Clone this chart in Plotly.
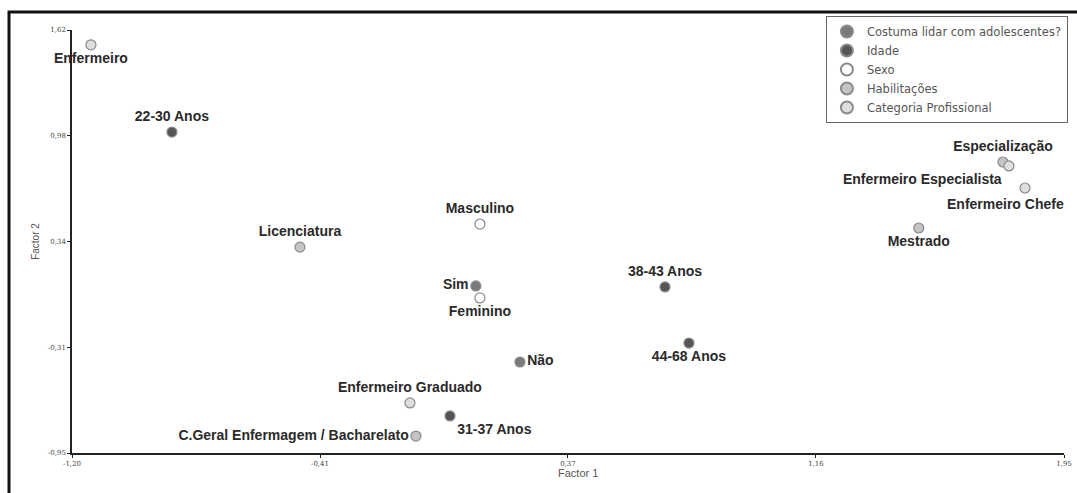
import plotly.graph_objects as go

# ---- data ----
groups = ["Costuma lidar com adolescentes?", "Idade", "Sexo", "Habilitações", "Categoria Profissional"]

lidar_labels = ["Sim", "Não"]
lidar_x = [0.081, 0.221]
lidar_y = [0.065, -0.397]

idade_labels = ["22-30 Anos", "31-37 Anos", "38-43 Anos", "44-68 Anos"]
idade_x = [-0.883, -0.001, 0.681, 0.757]
idade_y = [1.000, -0.725, 0.059, -0.282]

sexo_labels = ["Masculino", "Feminino"]
sexo_x = [0.094, 0.094]
sexo_y = [0.441, -0.008]

hab_labels = ["Licenciatura", "C.Geral Enfermagem / Bacharelato", "Especialização", "Mestrado"]
hab_x = [-0.477, -0.109, 1.753, 1.486]
hab_y = [0.301, -0.847, 0.818, 0.417]

cat_labels = ["Enfermeiro", "Enfermeiro Graduado", "Enfermeiro Especialista", "Enfermeiro Chefe"]
cat_x = [-1.140, -0.128, 1.772, 1.823]
cat_y = [1.530, -0.646, 0.794, 0.660]

x_ticks = [-1.20, -0.4133, 0.3733, 1.16, 1.9467]
x_ticktext = ["-1,20", "-0,41", "0,37", "1,16", "1,95"]
y_ticks = [-0.95, -0.3075, 0.335, 0.9775, 1.62]
y_ticktext = ["-0,95", "-0,31", "0,34", "0,98", "1,62"]

# ---- styling ----
colors = ["#7a7a7a", "#555555", "#ffffff", "#c4c4c4", "#dedede"]
positions = [
    ["middle left", "middle right"],
    ["top center", "bottom right", "top center", "bottom center"],
    ["top center", "bottom center"],
    ["top center", "middle left", "top center", "bottom center"],
    ["bottom center", "top center", "bottom left", "bottom center"],
]
label_font = dict(family="Liberation Sans, Arial", size=14, color="#2a2a2a", weight="bold")
# this label is drawn as an annotation so it can sit left of its point, as in the original
offset_label = "Enfermeiro Chefe"

series = [
    (lidar_labels, lidar_x, lidar_y),
    (idade_labels, idade_x, idade_y),
    (sexo_labels, sexo_x, sexo_y),
    (hab_labels, hab_x, hab_y),
    (cat_labels, cat_x, cat_y),
]

fig = go.Figure()
annots = []
for name, (labs, xs, ys), col, pos in zip(groups, series, colors, positions):
    shown = []
    for t, xv, yv in zip(labs, xs, ys):
        if t == offset_label:
            shown.append("")
            annots.append(dict(text=t, x=xv, y=yv, xref="x", yref="y", showarrow=False,
                               xanchor="center", yanchor="top", xshift=-20, yshift=-6,
                               font=label_font))
        else:
            shown.append(t)
    fig.add_trace(go.Scatter(
        x=xs, y=ys, mode="markers+text", name=name,
        text=shown, textposition=pos,
        textfont=label_font,
        marker=dict(size=10, color=col, line=dict(color="#8a8a8a", width=1.2)),
        cliponaxis=False,
    ))

annots.append(dict(
    text="Factor 1", xref="paper", yref="paper", x=0.51, y=-0.047,
    xanchor="center", yanchor="middle", showarrow=False,
    font=dict(family="Liberation Sans, Arial", size=11, color="#555"),
))

fig.update_layout(
    width=1077, height=493,
    margin=dict(l=72, r=13, t=30, b=40, autoexpand=False),
    paper_bgcolor="white", plot_bgcolor="white",
    showlegend=True,
    legend=dict(
        x=0.76, y=1.033, xanchor="left", yanchor="top",
        bordercolor="#666666", borderwidth=1, bgcolor="white",
        font=dict(family="DejaVu Sans", size=11.5, color="#555555"),
        tracegroupgap=0, itemsizing="constant", itemwidth=30,
    ),
    xaxis=dict(
        range=[-1.20, 1.9467], tickvals=x_ticks, ticktext=x_ticktext,
        showline=True, linecolor="#222222", linewidth=1.5, mirror=False,
        showgrid=False, zeroline=False, ticks="outside", ticklen=3, tickcolor="#222",
        tickfont=dict(family="DejaVu Serif", size=7, color="#444"),
    ),
    yaxis=dict(
        range=[-0.95, 1.62], tickvals=y_ticks, ticktext=y_ticktext,
        showline=True, linecolor="#222222", linewidth=1.5, mirror=False,
        showgrid=False, zeroline=False, ticks="outside", ticklen=3, tickcolor="#222",
        tickfont=dict(family="DejaVu Serif", size=7, color="#444"),
        title=dict(text="Factor 2", font=dict(family="Liberation Sans, Arial", size=10, color="#555"), standoff=6),
    ),
    annotations=annots,
)

# outer thick frame of the original figure
fig.add_shape(type="rect", xref="paper", yref="paper",
              x0=-0.0635, y0=-0.2, x1=1.05, y1=1.0426,
              line=dict(color="#111111", width=3), layer="below")

fig.write_html("out.html", config={"displayModeBar": False},
               post_script="document.body.style.margin='0';")
